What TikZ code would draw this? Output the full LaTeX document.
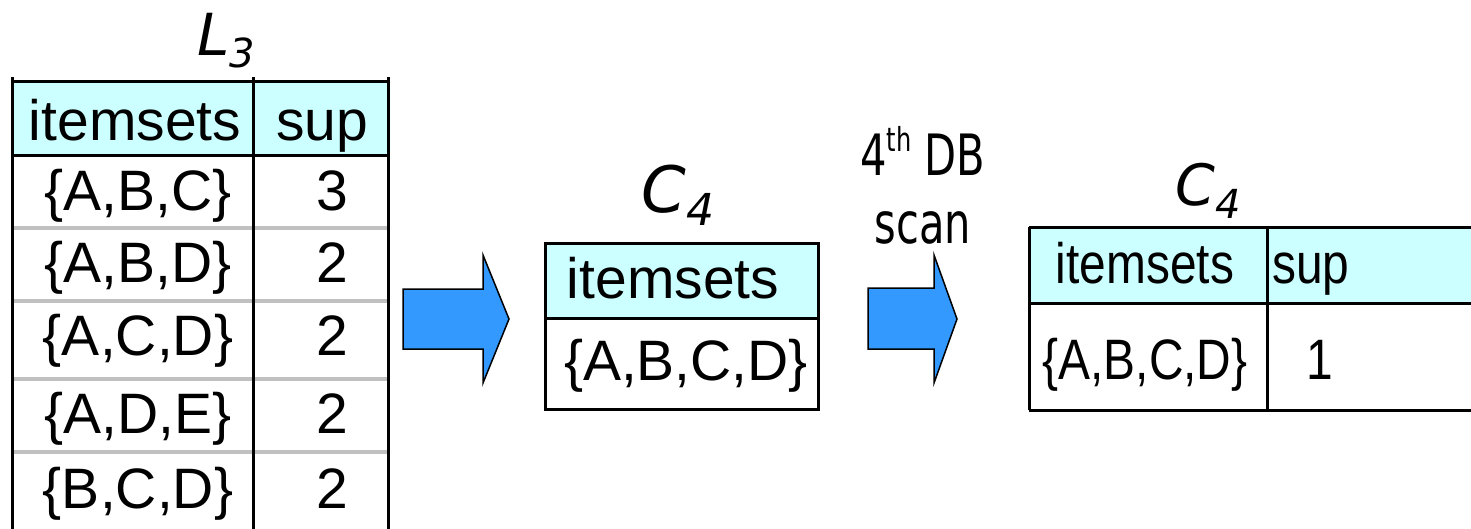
\documentclass[tikz,border=0pt]{standalone}
\usepackage{fontspec}
\setmainfont{Liberation Sans}
\newfontfamily\lblfont{DejaVu Sans}
\newfontfamily\narrowfont[FakeStretch=0.84]{Liberation Sans}
\newfontfamily\scanfont[FakeStretch=0.73]{DejaVu Sans}
\definecolor{headcyan}{HTML}{CCFFFF}
\definecolor{arrowblue}{HTML}{3399FF}
\definecolor{rulegray}{HTML}{C0C0C0}

\begin{document}
\begin{tikzpicture}[x=1pt,y=-1pt,line width=3pt,
    txt/.style={font=\fontsize{57}{60}\selectfont,anchor=base,inner sep=0pt},
    narrowtxt/.style={font=\narrowfont\fontsize{57}{60}\selectfont,anchor=base,inner sep=0pt},
    scantxt/.style={font=\scanfont\fontsize{57}{60}\selectfont,anchor=base,inner sep=0pt},
    lbl/.style={font=\lblfont\itshape,anchor=base,inner sep=0pt},
    blockarrow/.style={fill=arrowblue,draw=black,line width=1.5pt,line join=miter}]
\useasboundingbox (0,0) rectangle (1471,528);
\clip (0,0) rectangle (1471,528);

% L3 table
\fill[headcyan] (12,81) rectangle (388,155);
\foreach \y in {228,301,379,452}
{
    \draw[rulegray,line width=4pt] (12,\y)--(388,\y);
}
\draw (12,81)--(388,81);
\draw (12,155)--(388,155);
\foreach \x in {12,253,388}
{
    \draw (\x,77)--(\x,540);
}
\node[lbl] (lthree) at (226,55) {\fontsize{58}{60}\selectfont L\fontsize{40}{40}\selectfont\raisebox{-12pt}{3}};
\node[txt] (lhset) at (135,140) {itemsets};
\node[txt] (lhsup) at (322,140) {sup};
\foreach \y/\items/\cnt [count=\i] in {210/{\{A,B,C\}}/3,282/{\{A,B,D\}}/2,355/{\{A,C,D\}}/2,433/{\{A,D,E\}}/2,508/{\{B,C,D\}}/2}
{
    \node[txt] (lset\i) at (138,\y) {\items};
    \node[txt] (lsup\i) at (332,\y) {\cnt};
}

% first arrow
\draw[blockarrow] (403,289)--(483,289)--(483,255)--(509,319)--(483,383)--(483,349)--(403,349)--cycle;

% C4 candidates
\fill[headcyan] (545,243) rectangle (818,318);
\draw (545,243) rectangle (818,409);
\draw (545,318)--(818,318);
\node[lbl] (cfour) at (678,212) {\fontsize{64}{66}\selectfont C\fontsize{44}{44}\selectfont\raisebox{-13pt}{4}};
\node[txt] (chset) at (673,298) {itemsets};
\node[txt] (cset) at (686,380) {\{A,B,C,D\}};

% scan
\node[scantxt] (scanA) at (923,175) {4\raisebox{24pt}{\fontsize{33}{33}\selectfont th} DB};
\node[scantxt] (scanB) at (923,243) {scan};
\draw[blockarrow] (868,288)--(934,288)--(934,255)--(957,319)--(934,383)--(934,349)--(868,349)--cycle;

% C4 with counts
\fill[headcyan] (1029,227) rectangle (1490,303);
\draw (1029,227)--(1490,227);
\draw (1029,303)--(1490,303);
\draw (1029,410)--(1490,410);
\foreach \x in {1029,1267}
{
    \draw (\x,227)--(\x,410);
}
\node[lbl] (sfour) at (1208,205) {\fontsize{57}{60}\selectfont C\fontsize{40}{40}\selectfont\raisebox{-13pt}{4}};
\node[narrowtxt] (shset) at (1145,283) {itemsets};
\node[narrowtxt] (shsup) at (1311,283) {sup};
\node[narrowtxt] (sset) at (1145,379) {\{A,B,C,D\}};
\node[narrowtxt] (ssup) at (1320,379) {1};
\end{tikzpicture}
\end{document}
